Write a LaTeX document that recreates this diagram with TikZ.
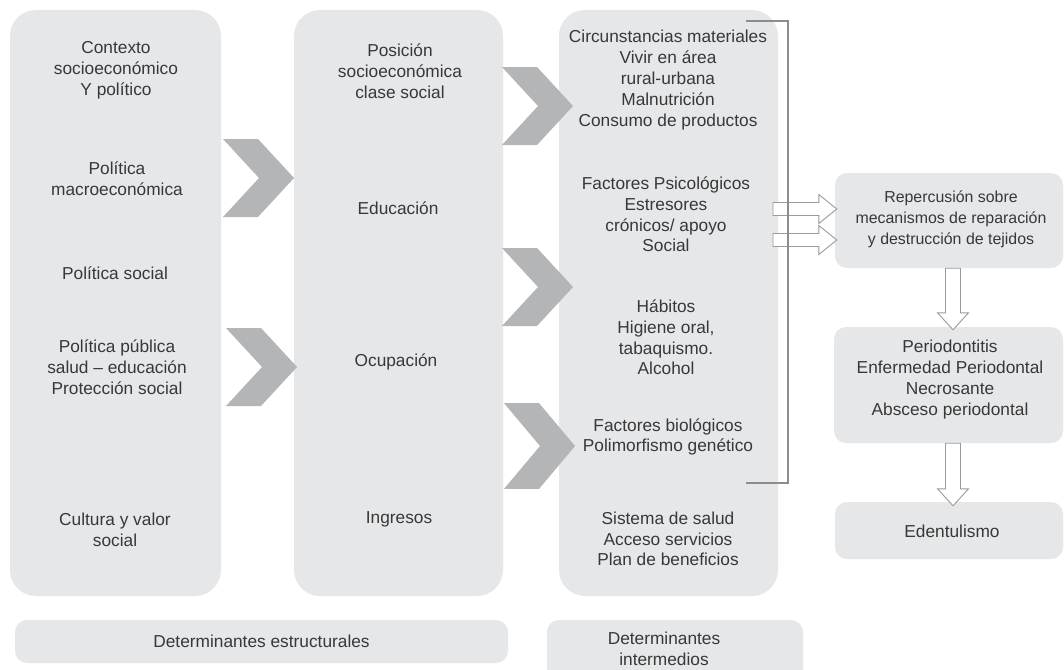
\documentclass[tikz,border=0pt]{standalone}
\usepackage{fontspec}
\setmainfont{Liberation Sans}
\usetikzlibrary{calc}
\definecolor{boxgray}{HTML}{E6E7E9}
\definecolor{chevgray}{HTML}{B4B5B7}
\definecolor{txtgray}{HTML}{383838}
\definecolor{linegray}{HTML}{8C8C8C}
\definecolor{arrgray}{HTML}{9A9A9A}
\newcommand\hollowdown[2]{%
  \draw[hollow] ($(#1)+(-7.5,0)$) -- ($(#2)+(-7.5,-17)$) -- ($(#2)+(-15.5,-17)$) -- (#2)
    -- ($(#2)+(15.5,-17)$) -- ($(#2)+(7.5,-17)$) -- ($(#1)+(7.5,0)$) -- cycle;}
\newcommand\hollowright[2]{%
  \draw[hollow] ($(#1)+(0,-6.5)$) -- ($(#2)+(-18,-6.5)$) -- ($(#2)+(-18,-14.5)$) -- (#2)
    -- ($(#2)+(-18,14.5)$) -- ($(#2)+(-18,6.5)$) -- ($(#1)+(0,6.5)$) -- cycle;}
\begin{document}
\begin{tikzpicture}[x=1pt,y=-1pt,
  bigbox/.style={fill=boxgray, rounded corners=26pt, inner sep=0pt, draw=none},
  smallbox/.style={fill=boxgray, rounded corners=12pt, inner sep=0pt, draw=none},
  lbl/.style={text=txtgray, align=center, inner sep=0pt, font=\fontsize{17.3}{20.8}\selectfont},
  lblsmall/.style={lbl, font=\fontsize{15.9}{21}\selectfont},
  chevron/.pic={\fill[chevgray] (-71,-39) -- (-36,-39) -- (0,0) -- (-36,39) -- (-71,39) -- (-35,0) -- cycle;},
  hollow/.style={draw=arrgray, fill=white, line width=0.9pt, line join=miter},
  bracket/.style={draw=linegray, line width=1.1pt}
]
\useasboundingbox (0,0) rectangle (1064,669);
\fill[white] (0,0) rectangle (1064,669);

% main columns
\node[bigbox, minimum width=211pt, minimum height=586pt] (b1) at (115.5,303) {};
\node[bigbox, minimum width=209pt, minimum height=586pt] (b2) at (398.5,303) {};
\node[bigbox, minimum width=219pt, minimum height=586pt] (b3) at (668.5,303) {};

% bottom labels
\node[smallbox, minimum width=493pt, minimum height=43pt] (bs) at (261.5,641.5) {};
\begin{scope}
  \clip (0,0) rectangle (1064,669);
  \node[smallbox, minimum width=256pt, minimum height=62pt] (bi) at (675,651) {};
\end{scope}
\node[lbl] (tbs) at (261.5,641) {Determinantes estructurales};
\node[lbl] (tbi) at (664,648.5) {Determinantes\\intermedios};

% right boxes
\node[smallbox, minimum width=228pt, minimum height=95pt] (rep) at (949,220.5) {};
\node[smallbox, minimum width=229pt, minimum height=116pt] (per) at (948.5,385) {};
\node[smallbox, minimum width=228pt, minimum height=57pt] (ede) at (949,530.5) {};

% chevrons
\pic at (294,178) {chevron};
\pic at (297,367) {chevron};
\pic at (573,106) {chevron};
\pic at (573,287) {chevron};
\pic[yscale=1.1] at (575,446) {chevron};

% column 1
\node[lbl] (t11) at (116,70) {Contexto\\socioeconómico\\Y político};
\node[lbl] (t12) at (117,178.5) {Política\\macroeconómica};
\node[lbl] (t13) at (115,273) {Política social};
\node[lbl] (t14) at (117,367) {Política pública\\salud – educación\\Protección social};
\node[lbl] (t15) at (115,529.5) {Cultura y valor\\social};

% column 2
\node[lbl] (t21) at (400,71.5) {Posición\\socioeconómica\\clase social};
\node[lbl] (t22) at (398,208) {Educación};
\node[lbl] (t23) at (396,362) {Ocupación};
\node[lbl] (t24) at (399,519) {Ingresos};

% column 3
\node[lbl] (t31) at (668,80) {Circunstancias materiales\\Vivir en área\\rural-urbana\\Malnutrición\\Consumo de productos};
\node[lbl] (t32) at (666,214.5) {Factores Psicológicos\\Estresores\\crónicos/ apoyo\\Social};
\node[lbl] (t33) at (666,337.5) {Hábitos\\Higiene oral,\\tabaquismo.\\Alcohol};
\node[lbl] (t34) at (668,437) {Factores biológicos\\Polimorfismo genético};
\node[lbl] (t35) at (668,539) {Sistema de salud\\Acceso servicios\\Plan de beneficios};

% right texts
\node[lblsmall] (trep) at (951,219) {Repercusión sobre\\mecanismos de reparación\\y destrucción de tejidos};
\node[lbl] (tper) at (950,379.5) {Periodontitis\\Enfermedad Periodontal\\Necrosante\\Absceso periodontal};
\node[lbl] (tede) at (952,531) {Edentulismo};

% hollow arrows
\coordinate (h1s) at (773,209);
\coordinate (h2s) at (773,240);
\coordinate (h1t) at ($(rep.west |- h1s)+(2,0)$);
\coordinate (h2t) at ($(rep.west |- h2s)+(2,0)$);
\hollowright{h1s}{h1t}
\hollowright{h2s}{h2t}

\coordinate (dx) at (953,0);
\coordinate (d1s) at (rep.south -| dx);
\coordinate (d1t) at ($(per.north -| dx)+(0,3)$);
\coordinate (d2s) at (per.south -| dx);
\coordinate (d2t) at ($(ede.north -| dx)+(0,4)$);
\hollowdown{d1s}{d1t}
\hollowdown{d2s}{d2t}

% bracket
\coordinate (brt) at (746,21);
\coordinate (brb) at (746,483);
\draw[bracket] (brt) -- (788,21) -- (788,483) -- (brb);
\end{tikzpicture}
\end{document}
